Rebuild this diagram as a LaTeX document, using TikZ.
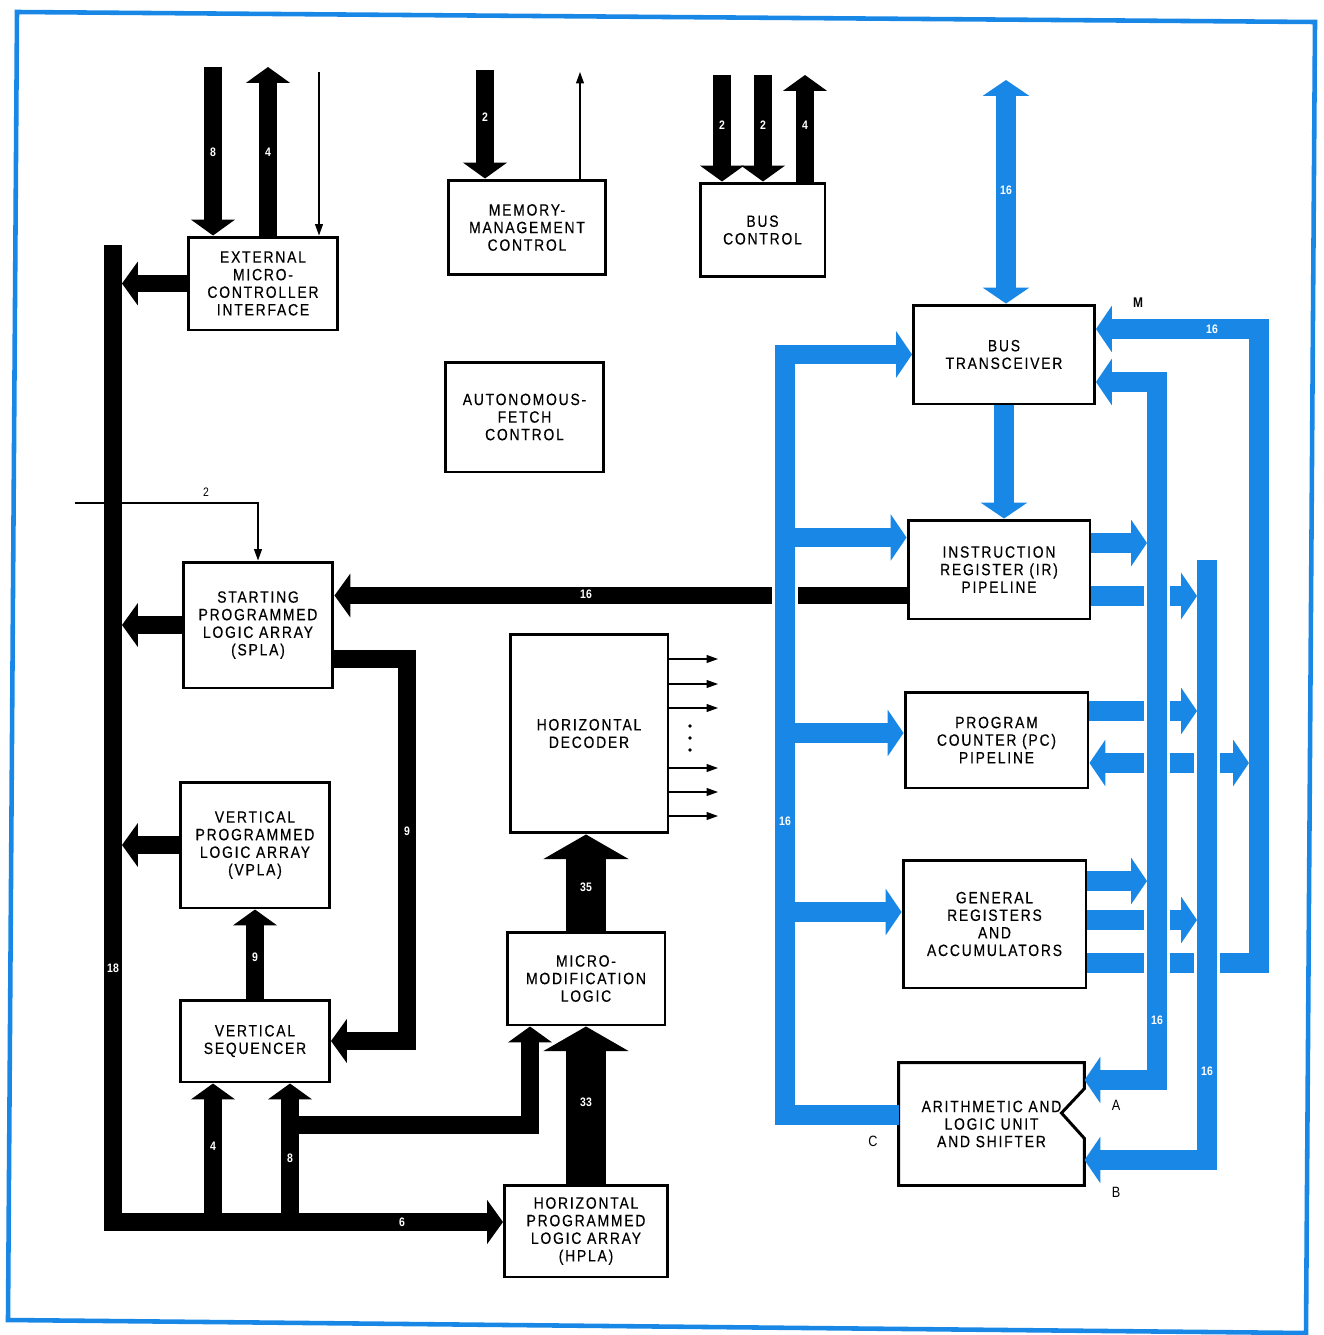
\documentclass[tikz,border=0pt]{standalone}
\usepackage{fontspec}
\setmainfont{Liberation Sans}[FakeStretch=0.85, LetterSpace=11, FakeBold=0.4]
\newfontfamily\numfont{Liberation Sans}[FakeStretch=0.85]
\usepackage{xcolor}
\usepackage{tikz}
\usetikzlibrary{arrows.meta}
\definecolor{busblue}{RGB}{25,135,230}
\newcommand{\boxfont}{\fontsize{9.3}{10}\selectfont}
\tikzset{
  blockbox/.style={draw=black, line width=1.7pt, fill=white, align=center, font=\boxfont, inner sep=1pt},
  blkbus/.style={draw=black, line width=10pt},
  blkarrow/.style={blkbus, -{Triangle[width=24.5pt, length=9pt]}},
  widearrow/.style={draw=black, line width=22.7pt, -{Triangle[width=48pt, length=14pt]}},
  bluebus/.style={draw=busblue, line width=11pt},
  bluearrow/.style={bluebus, -{Triangle[width=26pt, length=9pt]}},
  bluetwin/.style={bluebus, {Triangle[width=26pt, length=9pt]}-{Triangle[width=26pt, length=9pt]}},
  gapcase/.style={draw=white, line width=14.5pt},
  sigline/.style={draw=black, line width=0.7pt, -{Triangle[width=4.5pt, length=6.5pt]}},
  numlbl/.style={text=white, font=\numfont\bfseries\fontsize{7}{7}\selectfont, inner sep=0pt},
  taglbl/.style={text=black, font=\numfont\fontsize{8.5}{8.5}\selectfont, inner sep=0pt}
}

\begin{document}
\begin{tikzpicture}[x=0.02cm, y=-0.02cm]
  \useasboundingbox (0,0) rectangle (1324,1335);
  \draw[busblue, line width=2.6pt] (17,12) -- (1315,22) -- (1306,1333) -- (8,1320) -- cycle;

  \node[blockbox, minimum width=3cm, minimum height=1.86cm] (emci) at (263,283.5) {EXTERNAL\\MICRO-\\CONTROLLER\\INTERFACE};
  \node[blockbox, minimum width=3.16cm, minimum height=1.9cm] (mmc) at (527,227.5) {MEMORY-\\MANAGEMENT\\CONTROL};
  \node[blockbox, minimum width=2.5cm, minimum height=1.88cm] (busc) at (762.5,230) {BUS\\CONTROL};
  \node[blockbox, minimum width=3.18cm, minimum height=2.2cm] (afc) at (524.5,417) {AUTONOMOUS-\\FETCH\\CONTROL};
  \node[blockbox, minimum width=3.62cm, minimum height=1.98cm] (btx) at (1004,354.5) {BUS\\TRANSCEIVER};
  \node[blockbox, minimum width=3.64cm, minimum height=1.98cm] (ir) at (999,569.5) {INSTRUCTION\\REGISTER (IR)\\PIPELINE};
  \node[blockbox, minimum width=3.66cm, minimum height=1.92cm] (pc) at (996.5,740) {PROGRAM\\COUNTER (PC)\\PIPELINE};
  \node[blockbox, minimum width=3.66cm, minimum height=2.56cm] (gra) at (994.5,924) {GENERAL\\REGISTERS\\AND\\ACCUMULATORS};
  \node[blockbox, draw=none, minimum width=3.66cm, minimum height=2.4cm] (alu) at (991.5,1124) {ARITHMETIC AND\\LOGIC UNIT\\AND SHIFTER};
  \node[blockbox, minimum width=3cm, minimum height=2.52cm] (spla) at (258,625) {STARTING\\PROGRAMMED\\LOGIC ARRAY\\(SPLA)};
  \node[blockbox, minimum width=3cm, minimum height=2.52cm] (vpla) at (255,845) {VERTICAL\\PROGRAMMED\\LOGIC ARRAY\\(VPLA)};
  \node[blockbox, minimum width=2.98cm, minimum height=1.64cm] (vseq) at (255,1041) {VERTICAL\\SEQUENCER};
  \node[blockbox, minimum width=3.16cm, minimum height=3.98cm] (hdec) at (589,733.5) {HORIZONTAL\\DECODER};
  \node[blockbox, minimum width=3.16cm, minimum height=1.86cm] (mml) at (586,978.5) {MICRO-\\MODIFICATION\\LOGIC};
  \node[blockbox, minimum width=3.26cm, minimum height=1.84cm] (hpla) at (586,1231) {HORIZONTAL\\PROGRAMMED\\LOGIC ARRAY\\(HPLA)};
  \draw[line width=1.7pt] (alu.north west) -- (alu.north east) -- ([yshift=-0.52cm]alu.north east)
    -- ([xshift=-0.46cm, yshift=0.22cm]alu.east) -- ([yshift=0.94cm]alu.south east) -- (alu.south east)
    -- (alu.south west) -- cycle;

  \coordinate (in8) at (213,67);
  \coordinate (out4) at (268,67);
  \coordinate (inclk) at (319,72);
  \draw[blkarrow] (in8) -- (in8 |- emci.north);
  \draw[blkarrow] (out4 |- emci.north) -- (out4);
  \draw[sigline] (inclk) -- (inclk |- emci.north);
  \coordinate (mm2) at (485,70);
  \coordinate (mmout) at (580,72);
  \draw[blkarrow] (mm2) -- (mm2 |- mmc.north);
  \draw[sigline] (mmout |- mmc.north) -- (mmout);
  \foreach \x in {722,763} {
    \coordinate (bc\x) at (\x,75);
    \draw[blkarrow] (bc\x) -- (bc\x |- busc.north);
  }
  \coordinate (bcout) at (805,75);
  \draw[blkarrow] (bcout |- busc.north) -- (bcout);

  \coordinate (bustop) at (113,245);
  \coordinate (buscorner) at (113,1222);
  \coordinate (buswall) at (122,0);
  \draw[blkarrow] (bustop) -- (buscorner) -- (buscorner -| hpla.west);
  \foreach \blk in {emci, spla, vpla}
    \draw[blkarrow] (\blk.west) -- (\blk.west -| buswall);
  \coordinate (in2) at (75,503);
  \draw[sigline] (in2) -| (spla.north);
  \coordinate (irblk) at ([yshift=-0.52cm]ir.west);
  \draw[blkarrow] (irblk) -- (irblk -| spla.east);
  \coordinate (loop9) at (407,1041);
  \draw[blkarrow] ([yshift=-0.68cm]spla.east) -| (loop9) -- (vseq.east);
  \draw[blkarrow] (vseq.north) -- (vpla.south);
  \foreach \x in {213,290} {
    \coordinate (vs\x) at (\x,1222);
    \draw[blkarrow] (vs\x) -- (vs\x |- vseq.south);
  }
  \coordinate (mmtap) at (290,1125);
  \draw[blkarrow] (mmtap) -| ([xshift=-1.12cm]mml.south);
  \draw[widearrow] (hpla.north) -- (mml.south);
  \draw[widearrow] (mml.north) -- (mml.north |- hdec.south);
  \foreach \y in {659,684,708,768,792,816}
    \draw[sigline] (hdec.east |- 0,\y) -- (718,\y);
  \foreach \y in {726,738,750}
    \fill (690,\y) circle[radius=1.1pt];

  \coordinate (sysbus) at (1006,80);
  \draw[bluetwin] (sysbus) -- (sysbus |- btx.north);
  \draw[bluearrow] (btx.south) -- (btx.south |- ir.north);
  \coordinate (ctop) at (785,354.5);
  \coordinate (cbot) at (785,1115);
  \draw[gapcase] (ctop) -- (cbot);
  \draw[bluearrow] (alu.west |- cbot) -- (cbot) -- (ctop) -- (btx.west);
  \foreach \blk/\dy in {ir/0.64, pc/0.14, gra/0.24}
    \draw[bluearrow] ([yshift=\dy cm]\blk.west -| ctop) -- ([yshift=\dy cm]\blk.west);

  \coordinate (mwall) at (1249,0);
  \coordinate (mtop) at (1259,329);
  \coordinate (mbot) at (1259,963);
  \draw[bluetwin] ([yshift=-0.46cm]pc.east) -- ([yshift=-0.46cm]pc.east -| mwall);
  \draw[bluearrow] (gra.east |- mbot) -- (mbot) -- (mtop) -- (btx.east |- mtop);
  \coordinate (btop) at (1207,560);
  \coordinate (bbot) at (1207,1160);
  \coordinate (bwall) at (1197,0);
  \draw[gapcase] (btop) -- (bbot);
  \draw[bluearrow] (btop) -- (bbot) -- (alu.east |- bbot);
  \foreach \blk/\dy in {ir/-0.53, pc/0.58, gra/0.08}
    \draw[bluearrow] ([yshift=\dy cm]\blk.east) -- ([yshift=\dy cm]\blk.east -| bwall);
  \coordinate (atop) at (1157,382);
  \coordinate (abot) at (1157,1080);
  \coordinate (awall) at (1147,0);
  \draw[gapcase] (atop) -- (abot);
  \draw[bluetwin] (btx.east |- atop) -- (atop) -- (abot) -- (alu.east |- abot);
  \foreach \blk/\dy in {ir/0.53, gra/0.86}
    \draw[bluearrow] ([yshift=\dy cm]\blk.east) -- ([yshift=\dy cm]\blk.east -| awall);

  \foreach \x/\y/\t [count=\i] in {213/152/8, 268/152/4, 485/117/2, 722/125/2, 763/125/2, 805/125/4,
      586/594/16, 407/831/9, 255/957/9, 113/968/18, 213/1146/4, 290/1158/8, 402/1222/6,
      586/1102/33, 586/887/35, 1006/190/16, 785/821/16, 1212/329/16, 1157/1020/16, 1207/1071/16}
    \node[numlbl] (wid\i) at (\x,\y) {\t};
  \node[taglbl, font=\numfont\fontsize{7}{7}\selectfont] (tag2) at (206,492) {2};
  \node[taglbl, font=\numfont\bfseries\fontsize{8}{8}\selectfont] (tagm) at (1138,303) {M};
  \node[taglbl] (taga) at (1116,1105) {A};
  \node[taglbl] (tagb) at (1116,1192) {B};
  \node[taglbl] (tagc) at (873,1141) {C};
\end{tikzpicture}
\end{document}
